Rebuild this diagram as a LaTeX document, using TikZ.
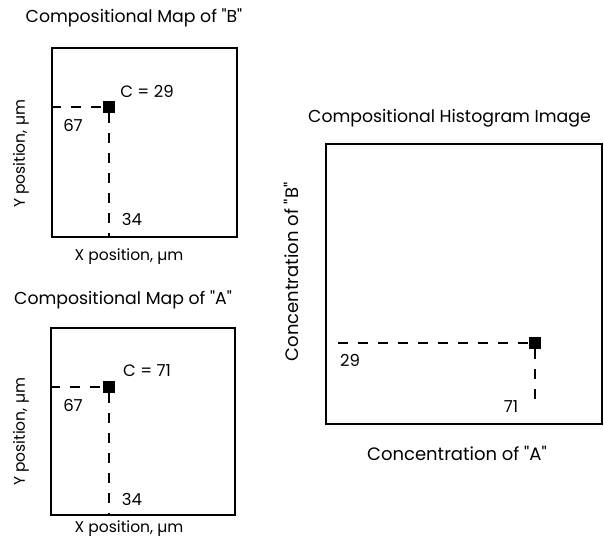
\documentclass[tikz,border=0pt]{standalone}
\usepackage{fontspec}
\setmainfont{Poppins}[Ligatures=TeXOff]

\begin{document}
\begin{tikzpicture}[x=1pt, y=-1pt, font=\fontsize{17.3}{20}\selectfont,
  frame/.style={draw, line width=1.7pt, inner sep=0pt},
  spot/.style={fill, inner sep=0pt, minimum size=12pt},
  axislab/.style={font=\fontsize{15.5}{18}\selectfont},
  numlab/.style={font=\fontsize{16.5}{19}\selectfont},
  conclab/.style={font=\fontsize{18}{21}\selectfont},
  guide/.style={line width=1.2pt, dash pattern=on 10pt off 10pt}]
  \useasboundingbox (0,0) rectangle (604,540);

  % map of "B"
  \node (titleB) at (134,18) {Compositional Map of "B"};
  \node[frame, minimum width=185pt, minimum height=189pt] (mapB) at (144.5,142.5) {};
  \node[spot] (spotB) at (109,107) {};
  \node[numlab] (cB)  at (147,91)  {C = 29};
  \node[numlab] (yB)  at (73,125)  {67};
  \node[numlab] (xB)  at (132,219) {34};
  \node[axislab] (xlabB) at (129,257) {X position, µm};
  \node[axislab, rotate=90] (ylabB) at (21,154) {Y position, µm};
  \draw[guide] (mapB.west |- spotB) -- (spotB);
  \draw[guide] (spotB) -- (spotB |- mapB.south);

  % map of "A"
  \node (titleA) at (123,300) {Compositional Map of "A"};
  \node[frame, minimum width=184pt, minimum height=187pt] (mapA) at (143,421.5) {};
  \node[spot] (spotA) at (109,387) {};
  \node[numlab] (cA)  at (147,371) {C = 71};
  \node[numlab] (yA)  at (73,405)  {67};
  \node[numlab] (xA)  at (132,499) {34};
  \node[axislab] (xlabA) at (129,529) {X position, µm};
  \node[axislab, rotate=90] (ylabA) at (21,432) {Y position, µm};
  \draw[guide] (mapA.west |- spotA) -- (spotA);
  \draw[guide] (spotA) -- (spotA |- mapA.south);

  % histogram
  \node (titleH) at (449.5,118) {Compositional Histogram Image};
  \node[frame, line width=2.4pt, minimum width=276pt, minimum height=280pt] (hist) at (464,284) {};
  \node[spot] (spotH) at (535,343) {};
  \coordinate (startH) at (338,343);
  \coordinate (endH) at (535,408);
  \node[numlab] (concB) at (350,360) {29};
  \node[numlab] (concA) at (511,407) {71};
  \node[conclab] (xlabH) at (457,453) {Concentration of "A"};
  \node[conclab, rotate=90] (ylabH) at (291,272) {Concentration of "B"};
  \draw[guide] (startH) -- (spotH);
  \draw[guide] (spotH) -- (endH);
\end{tikzpicture}
\end{document}
